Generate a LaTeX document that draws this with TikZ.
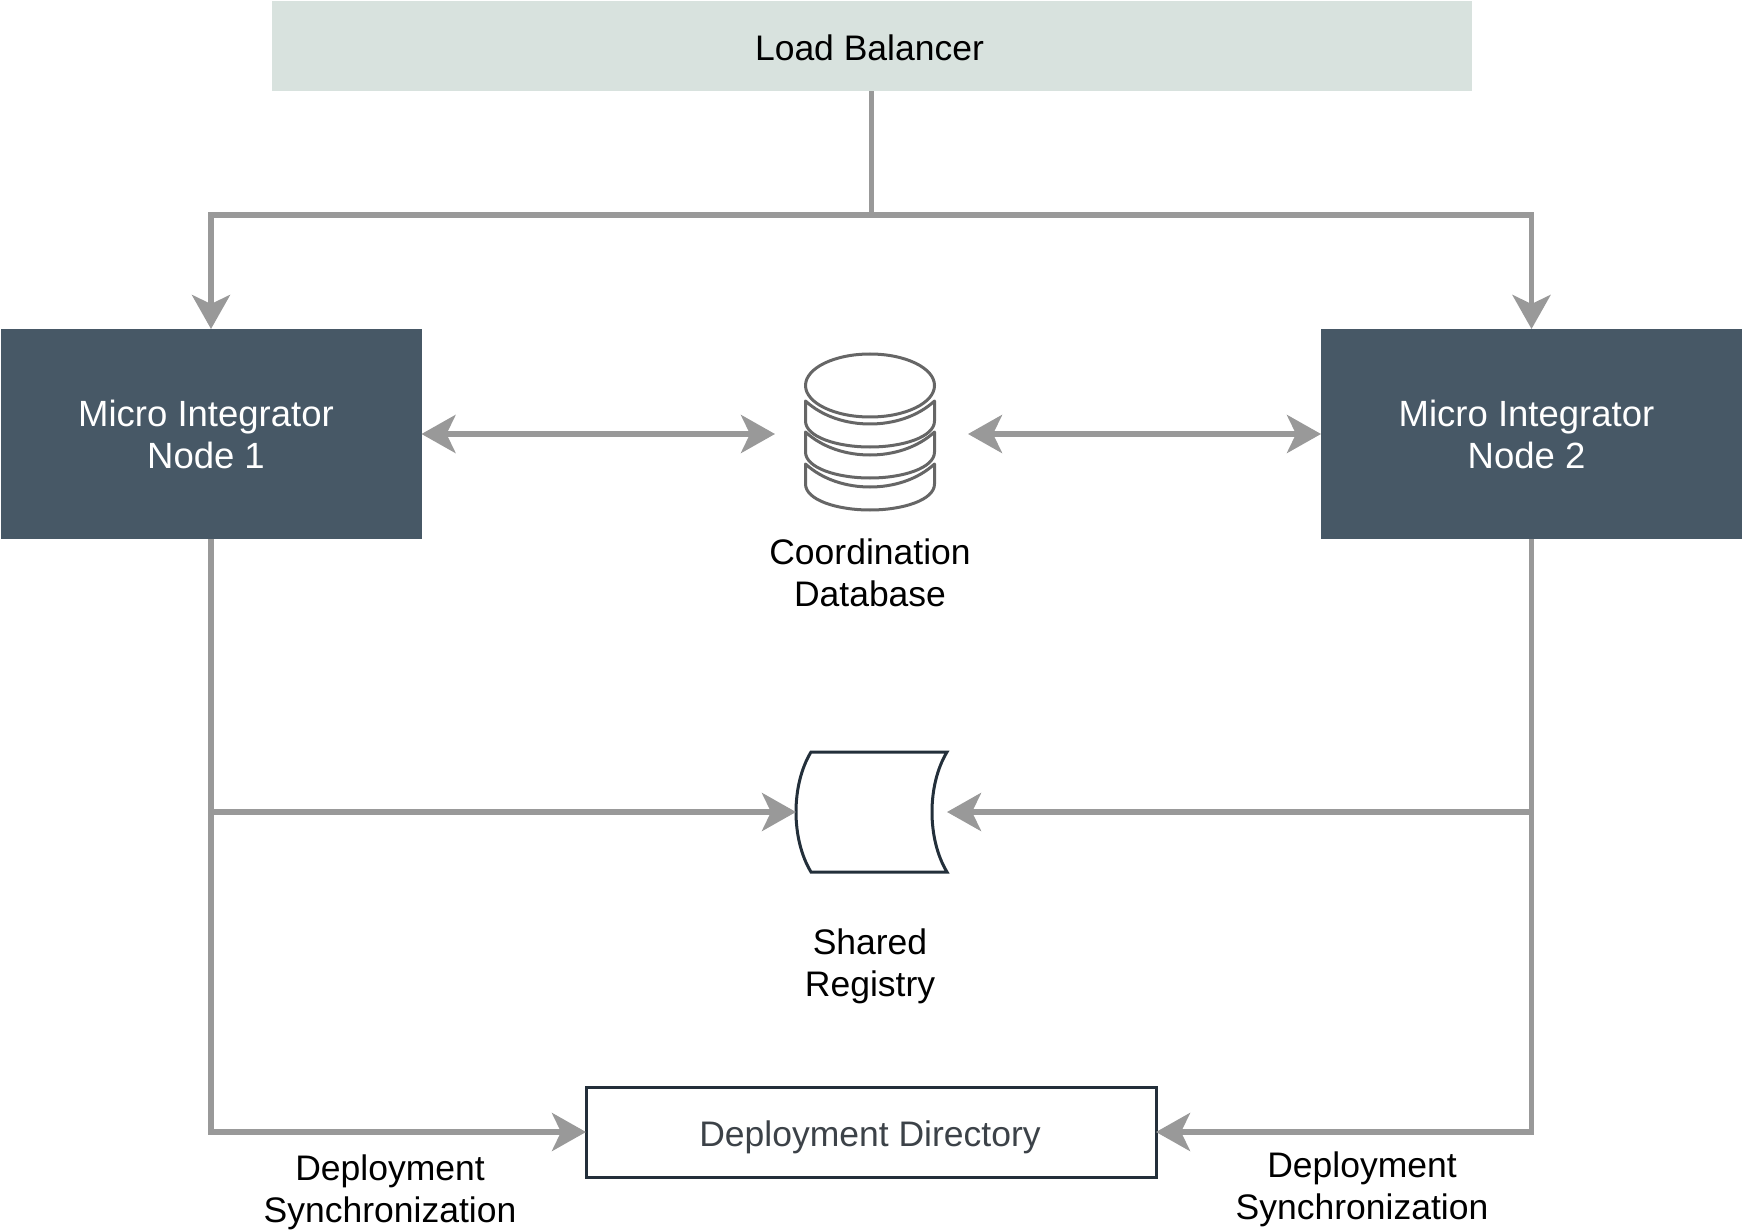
\documentclass[tikz,border=0pt]{standalone}
\usepackage{fontspec}
\setmainfont{Liberation Sans}
\usetikzlibrary{arrows.meta}
\definecolor{lbfill}{HTML}{D8E2DE}
\definecolor{nodefill}{HTML}{475866}
\definecolor{linkgray}{HTML}{999999}
\definecolor{boxline}{HTML}{232F3A}
\definecolor{dbline}{HTML}{666666}
\definecolor{dirtext}{HTML}{3C4248}
\newcommand{\dropby}[2]{\raisebox{-#1pt}[\height][\depth]{#2}}
\tikzset{
  every node/.style={font=\fontsize{35.5}{42}\selectfont, align=center, inner sep=0pt, outer sep=0pt},
  link/.style={draw=linkgray, line width=5.5pt, line join=miter},
  tip/.tip={Stealth[length=34pt,width=38pt,inset=9pt]},
  onearrow/.style={link, -{tip}},
  twoarrow/.style={link, {tip}-{tip}},
  lbbox/.style={fill=lbfill, minimum width=1200pt, minimum height=90pt},
  mibox/.style={fill=nodefill, text=white, minimum width=421pt, minimum height=210pt, font=\fontsize{36.5}{42}\selectfont},
  dirbox/.style={draw=boxline, fill=white, line width=3pt, text=dirtext, minimum width=570pt, minimum height=90pt},
  dbshape/.style={draw=dbline, line width=3pt, fill=white, line join=round},
  regshape/.style={draw=boxline, line width=3pt, fill=white, line join=miter},
  label/.style={text=black}
}
\begin{document}
\begin{tikzpicture}[x=1pt,y=-1pt]
\useasboundingbox (0,0) rectangle (1743,1230);
% boxes
\node[lbbox] (lb) at (871.5,46.5) {\hspace*{-4pt}\dropby{1}{Load Balancer}};
\node[mibox] (n1) at (211,434) {\hspace*{-10pt}\dropby{5.5}{\begin{tabular}{@{}c@{}}Micro Integrator\\Node 1\end{tabular}}};
\node[mibox] (n2) at (1531.5,434) {\hspace*{-10pt}\dropby{5.5}{\begin{tabular}{@{}c@{}}Micro Integrator\\Node 2\end{tabular}}};
\node[dirbox] (dir) at (871,1132) {\hspace*{-2pt}\dropby{5.5}{Deployment Directory}};
% anchors for the icons
\node[minimum width=193pt, minimum height=160pt] (db) at (871.5,434) {};
\node[minimum width=151pt, minimum height=120pt] (reg) at (871.5,812) {};
% database icon
\draw[dbshape] (870,385.5) ellipse [x radius=64.5, y radius=31.5];
\foreach \o in {0,31,63}{
  \draw[dbshape, yshift=-\o pt] (805.5,401) .. controls (823,417) and (847,424) .. (870,424)
    .. controls (893,424) and (917,417) .. (934.5,401) -- (934.5,421)
    .. controls (934.5,437) and (903,447) .. (870,447)
    .. controls (837,447) and (805.5,437) .. (805.5,421) -- cycle;
}
% registry icon
\draw[regshape] (811,752) -- (947,752) .. controls (927,785) and (927,839) .. (947,872)
  -- (811,872) .. controls (791,839) and (791,785) .. (811,752) -- cycle;
% junctions
\coordinate (top) at (lb.south |- 0,215);
\coordinate (topL) at (n1.north |- 0,215);
\coordinate (topR) at (n2.north |- 0,215);
\coordinate (midL) at (n1.south |- reg.west);
\coordinate (midR) at (n2.south |- reg.east);
\coordinate (botL) at (n1.south |- dir.west);
\coordinate (botR) at (n2.south |- dir.east);
% connectors
\draw[link] (lb.south) -- (top);
\draw[onearrow] (top) -- (topL) -- (n1.north);
\draw[onearrow] (top) -- (topR) -- (n2.north);
\draw[twoarrow] (n1.east |- db.west) -- (db.west);
\draw[twoarrow] (db.east) -- (n2.west |- db.east);
\draw[onearrow] (midL) -- (reg.west);
\draw[onearrow] (midR) -- (reg.east);
\draw[onearrow] (n1.south) -- (botL) -- (dir.west);
\draw[onearrow] (n2.south) -- (botR) -- (dir.east);
% labels
\node[label] (coord) at (870,573) {Coordination\\Database};
\node[label] (shared) at (870,966) {Shared\\Registry};
\node[label] (dsl) at (390,1192) {Deployment\\Synchronization};
\node[label] (dsr) at (1362,1189) {Deployment\\Synchronization};
\end{tikzpicture}
\end{document}
